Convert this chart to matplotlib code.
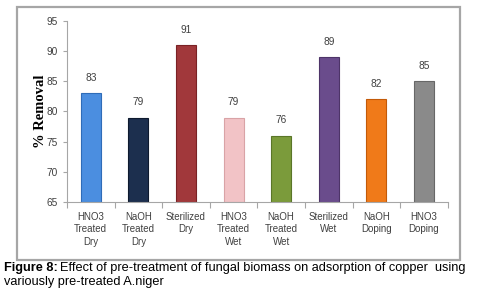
import numpy as np
import matplotlib
matplotlib.use("Agg")
from matplotlib import pyplot as plt
from matplotlib.patches import Rectangle

categories = ["HNO3\nTreated\nDry", "NaOH\nTreated\nDry", "Sterilized\nDry",
              "HNO3\nTreated\nWet", "NaOH\nTreated\nWet", "Sterilized\nWet",
              "NaOH\nDoping", "HNO3\nDoping"]
removal = [83, 79, 91, 79, 76, 89, 82, 85]
colors = ["#4b8ee0", "#1c2f4e", "#a1383b", "#f2c3c6",
          "#7b9b3b", "#6a4c8c", "#f07a19", "#8a8a8a"]
edges = ["#2f6cb8", "#0e1a2e", "#7a2225", "#d9a3a6",
         "#5a7628", "#4d3468", "#c35a08", "#676767"]
yticks = [65, 70, 75, 80, 85, 90, 95]

plt.rcParams['font.family'] = ['Liberation Sans', 'DejaVu Sans']

fig = plt.figure(figsize=(4.82, 3.05), dpi=100)

# outer frame of the chart
fig.patches.append(Rectangle((0.036, 0.147), 0.918, 0.829, transform=fig.transFigure,
                             fill=False, edgecolor="#a6a6a6", linewidth=1.6))

ax = fig.add_axes([0.139, 0.338, 0.790, 0.593])
x = np.arange(len(categories))
ax.bar(x, [v - 65 for v in removal], bottom=65, width=0.42, color=colors,
       edgecolor=edges, linewidth=0.8)

for xi, v in zip(x, removal):
    ax.annotate(str(v), (xi, v), xytext=(0, 11), textcoords="offset points",
                ha="center", va="center", fontsize=7.3, color="#404040")

ax.set_ylim(65, 95)
ax.set_yticks(yticks)
ax.set_xlim(-0.5, len(categories) - 0.5)
ax.set_xticks(x)
ax.set_xticklabels(categories, fontsize=7, color="#404040", linespacing=1.35)
ax.set_xticks(np.arange(-0.5, len(categories)), minor=True)
ax.tick_params(axis="x", which="major", length=0, pad=7)
ax.tick_params(axis="x", which="minor", length=4, color="#a6a6a6", width=0.8)
ax.tick_params(axis="y", labelsize=7.3, labelcolor="#404040", length=3,
               color="#a6a6a6", width=0.8)
for s in ["top", "right"]:
    ax.spines[s].set_visible(False)
for s in ["left", "bottom"]:
    ax.spines[s].set_color("#a6a6a6")
    ax.spines[s].set_linewidth(0.8)

ax.set_ylabel("% Removal", family="Liberation Serif", fontweight="bold",
              fontsize=10.5, labelpad=0)

# caption below the frame
t1 = fig.text(0.008, 0.12, "Figure 8:", fontsize=9.2, fontweight="bold", va="center")
fig.canvas.draw()
bb = t1.get_window_extent()
fig.text(bb.x1 / fig.bbox.width + 0.006, 0.12,
         "Effect of pre-treatment of fungal biomass on adsorption of copper  using",
         fontsize=9.2, va="center")
fig.text(0.008, 0.075, "variously pre-treated A.niger", fontsize=9.2, va="center")

fig.savefig("out.png", dpi=100)
